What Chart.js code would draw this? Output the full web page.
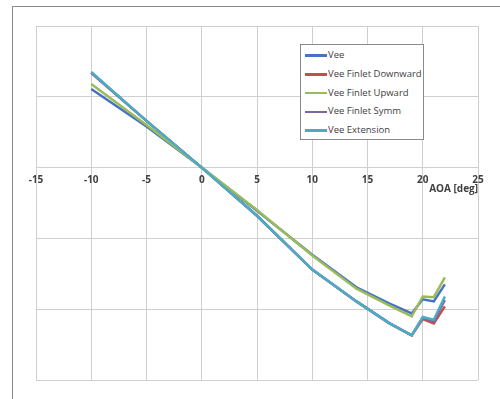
<!DOCTYPE html>
<html>
<head>
<meta charset="utf-8">
<script src="https://cdn.jsdelivr.net/npm/chart.js@4"></script>
<style>
  body { margin: 0; background: #fff; }
  #wrap { position: relative; width: 500px; height: 399px; overflow: hidden; }
  #frame { position: absolute; left: 12px; top: 6px; width: 520px; height: 420px; border: 1px solid #8a8a8a; }
  #legend { position: absolute; left: 300px; top: 44px; width: 122px; height: 94px; border: 1px solid #8a8a8a; background: #fff;
            font-family: "Open Sans", sans-serif; font-size: 9.5px; color: #404040; }
  .item { position: absolute; left: 4px; height: 14px; line-height: 14px; white-space: nowrap; }
  .swatch { display: inline-block; width: 22px; height: 2.5px; vertical-align: middle; margin-right: 1px; }
</style>
</head>
<body>
<div id="wrap">
  <div id="frame"></div>
  <canvas id="myChart" width="500" height="399"></canvas>
  <div id="legend"></div>
</div>
<script>
// angle of attack [deg]
const aoa = [-10, -5, 0, 5, 10, 14, 17, 19, 20, 21, 22];

// values (one grid step = 1)
const vee            = [1.11, 0.58, 0, -0.61, -1.23, -1.69, -1.92, -2.06, -1.86, -1.89, -1.65];
const finletDownward = [1.34, 0.66, 0, -0.68, -1.44, -1.89, -2.20, -2.37, -2.14, -2.20, -1.96];
const finletUpward   = [1.18, 0.60, 0, -0.60, -1.24, -1.71, -1.95, -2.10, -1.82, -1.83, -1.55];
const finletSymm     = [1.34, 0.66, 0, -0.68, -1.44, -1.89, -2.20, -2.37, -2.12, -2.17, -1.87];
const extension      = [1.35, 0.66, 0, -0.68, -1.44, -1.89, -2.20, -2.37, -2.11, -2.15, -1.82];

const seriesNames = ["Vee", "Vee Finlet Downward", "Vee Finlet Upward", "Vee Finlet Symm", "Vee Extension"];
const seriesValues = [vee, finletDownward, finletUpward, finletSymm, extension];
const seriesColors = ["#4472C4", "#C0504D", "#9BBB59", "#8064A2", "#4BACC6"];
// lower order is painted on top
const drawOrder = [2, 4, 1, 3, 0];

const xTicks = [-15, -10, -5, 0, 5, 10, 15, 20, 25];
const yTicks = [-3, -2, -1, 0, 1, 2];

function toPoints(values) {
    return aoa.map((x, i) => ({ x: x, y: values[i] }));
}

const datasets = seriesNames.map((name, i) => ({
    label: name,
    data: toPoints(seriesValues[i]),
    borderColor: seriesColors[i],
    backgroundColor: seriesColors[i],
    borderWidth: 2.5,
    pointRadius: 0,
    tension: 0,
    fill: false,
    order: drawOrder[i]
}));

const gridColor = "#cfcfcf";

const ctx = document.getElementById("myChart").getContext("2d");
const myChart = new Chart(ctx, {
    type: "line",
    data: { datasets: datasets },
    options: {
        responsive: false,
        animation: false,
        layout: { padding: { left: 36, top: 26, right: 22, bottom: 19 } },
        plugins: { legend: { display: false }, tooltip: { enabled: false } },
        scales: {
            x: {
                type: "linear",
                position: { y: 0 },
                min: xTicks[0],
                max: xTicks[xTicks.length - 1],
                afterBuildTicks: axis => { axis.ticks = xTicks.map(v => ({ value: v })); },
                grid: { color: gridColor, drawTicks: false },
                border: { color: gridColor },
                ticks: {
                    padding: 7,
                    color: "#404040",
                    font: { family: "Open Sans", size: 10, weight: "bold" }
                },
                title: {
                    display: true,
                    text: "AOA [deg]",
                    align: "end",
                    color: "#404040",
                    padding: { top: -10 },
                    font: { family: "Open Sans", size: 10, weight: "bold" }
                }
            },
            y: {
                type: "linear",
                min: yTicks[0],
                max: yTicks[yTicks.length - 1],
                afterBuildTicks: axis => { axis.ticks = yTicks.map(v => ({ value: v })); },
                grid: { color: gridColor, drawTicks: false },
                border: { color: gridColor },
                ticks: { display: false }
            }
        }
    }
});

// Legend box inside the plot
const legend = document.getElementById("legend");
seriesNames.forEach((name, i) => {
    const item = document.createElement("div");
    item.className = "item";
    item.style.top = (3 + i * 18.8) + "px";
    const swatch = document.createElement("span");
    swatch.className = "swatch";
    swatch.style.background = seriesColors[i];
    item.appendChild(swatch);
    item.appendChild(document.createTextNode(name));
    legend.appendChild(item);
});
</script>
</body>
</html>
